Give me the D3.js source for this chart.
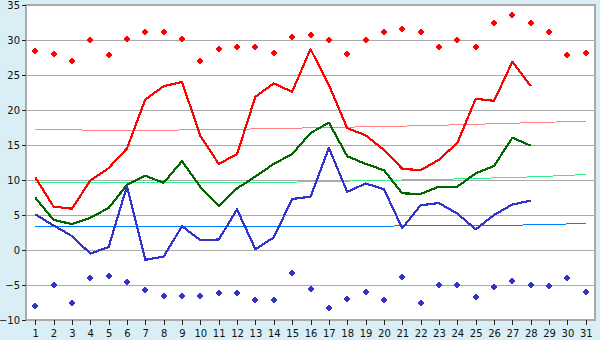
<!DOCTYPE html>
<html><head><meta charset="utf-8">
<script src="https://cdn.jsdelivr.net/npm/d3@7"></script>
<style>
html,body{margin:0;padding:0;background:#d9eef5;}
svg{display:block;}
text{font-family:"DejaVu Sans",Verdana,sans-serif;font-size:10px;fill:#111;}
</style></head><body>
<svg id="c" width="600" height="340"></svg>
<script>
const days = d3.range(1, 32);
const yTicks = [-10, -5, 0, 5, 10, 15, 20, 25, 30, 35];
const maxTemp = [10.4,6.2,5.9,9.9,11.7,14.5,21.5,23.4,24.0,16.3,12.3,13.7,21.9,23.8,22.6,28.7,23.6,17.4,16.4,14.3,11.6,11.4,12.9,15.3,21.6,21.3,26.9,23.4];
const meanTemp = [7.5,4.3,3.7,4.6,6.0,9.3,10.6,9.6,12.7,9.0,6.3,8.8,10.5,12.3,13.7,16.7,18.2,13.4,12.3,11.4,8.1,8.0,9.05,9.05,10.95,12.0,16.05,14.9];
const minTemp = [5.1,3.5,2.0,-0.5,0.4,9.1,-1.4,-0.95,3.4,1.4,1.5,5.8,0.1,1.8,7.3,7.6,14.6,8.3,9.5,8.7,3.1,6.4,6.7,5.2,2.95,5.0,6.5,7.05];
const recordHigh = [28.4,28.0,27.0,30.0,27.8,30.1,31.1,31.1,30.2,27.0,28.7,29.0,29.0,28.1,30.4,30.7,30.0,28.0,30.0,31.1,31.5,31.1,29.0,30.0,29.0,32.4,33.5,32.5,31.1,27.8,28.2];
const recordLow = [-8.0,-5.05,-7.6,-4.05,-3.76,-4.6,-5.76,-6.6,-6.6,-6.5,-6.2,-6.2,-7.2,-7.2,-3.3,-5.5,-8.3,-7.0,-6.05,-7.2,-3.9,-7.6,-5.05,-5.05,-6.76,-5.33,-4.48,-5.05,-5.2,-4.05,-6.05];
const normalMax = [17.25,17.25,17.2,17.1,17.1,17.1,17.1,17.1,17.15,17.2,17.2,17.25,17.3,17.35,17.4,17.45,17.5,17.55,17.6,17.65,17.7,17.75,17.8,17.9,17.95,18.05,18.1,18.2,18.25,18.35,18.4];
const normalMean = [9.67,9.67,9.67,9.67,9.67,9.67,9.67,9.67,9.67,9.67,9.67,9.67,9.67,9.68,9.7,9.75,9.8,9.85,9.9,9.95,10.0,10.05,10.1,10.15,10.2,10.3,10.35,10.45,10.55,10.65,10.8];
const normalMin = [3.38,3.38,3.38,3.38,3.38,3.38,3.38,3.38,3.38,3.38,3.38,3.38,3.38,3.38,3.38,3.38,3.38,3.38,3.38,3.4,3.45,3.5,3.52,3.52,3.52,3.54,3.56,3.58,3.62,3.72,3.8];

const L = 26, R = 595, T = 5, B = 320;
const svg = d3.select("#c");
const x = d3.scalePoint().domain(days).range([L, R]).padding(0.5);
const y = d3.scaleLinear().domain([-10, 35]).range([B, T]);

svg.append("rect").attr("x", L).attr("y", T).attr("width", R - L).attr("height", B - T).attr("fill", "#fff");

svg.append("g").selectAll("line").data(yTicks).join("line")
  .attr("x1", L).attr("x2", R).attr("y1", d => y(d)).attr("y2", d => y(d))
  .attr("stroke", "#aaa").attr("stroke-width", 1).attr("shape-rendering", "crispEdges");

const line = d3.line().x((d, i) => x(days[i])).y(d => y(d));
function trend(data, color) {
  svg.append("path").datum(data).attr("d", line).attr("fill", "none")
    .attr("stroke", color).attr("stroke-width", 1).attr("shape-rendering", "crispEdges");
}
trend(normalMax, "#ff8080");
trend(normalMean, "#33ee88");
trend(normalMin, "#0080ff");

function series(data, color) {
  svg.append("path").datum(data).attr("d", line).attr("fill", "none")
    .attr("stroke", color).attr("stroke-width", 2.2).attr("stroke-linejoin", "round")
    .attr("shape-rendering", "crispEdges");
}
series(maxTemp, "#ff0000");
series(meanTemp, "#006600");
series(minTemp, "#3333cc");

const marker = "M-1,-3H1V-1H3V1H1V3H-1V1H-3V-1H-1Z M-2,-2H2V2H-2Z";
function points(data, color) {
  svg.append("g").selectAll("path").data(data).join("path")
    .attr("d", marker).attr("fill", color).attr("shape-rendering", "crispEdges")
    .attr("transform", (d, i) => `translate(${Math.round(x(days[i]))},${Math.round(y(d))})`);
}
points(recordHigh, "#ff0000");
points(recordLow, "#3333cc");

svg.append("rect").attr("x", L).attr("y", T).attr("width", R - L).attr("height", B - T)
  .attr("fill", "none").attr("stroke", "#aaa").attr("stroke-width", 2).attr("shape-rendering", "crispEdges");

const xa = svg.append("g").attr("transform", `translate(0,${B})`)
  .call(d3.axisBottom(x).tickSize(5).tickPadding(5).tickSizeOuter(0));
xa.select(".domain").remove();
xa.selectAll("line").attr("stroke", "#222").attr("shape-rendering", "crispEdges");
xa.selectAll("text").style("font-size", "10px").attr("fill", "#111");

const ya = svg.append("g").attr("transform", `translate(${L},0)`)
  .call(d3.axisLeft(y).tickValues(yTicks).tickFormat(d => d < 0 ? "\u2212" + Math.abs(d) : d).tickSize(4).tickPadding(2).tickSizeOuter(0));
ya.select(".domain").remove();
ya.selectAll("line").attr("stroke", "#222").attr("shape-rendering", "crispEdges");
ya.selectAll("text").style("font-size", "10px").attr("fill", "#111");
</script>
</body></html>
